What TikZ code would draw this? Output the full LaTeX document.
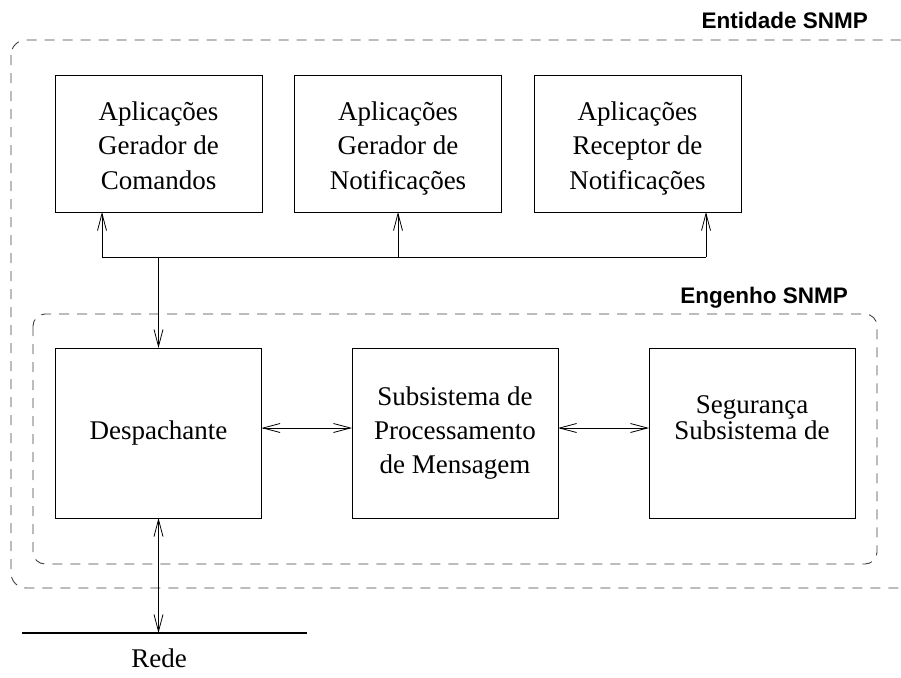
\documentclass[tikz,border=0pt]{standalone}
\usepackage{fontspec}
\setmainfont{Liberation Serif}
\setsansfont{Liberation Sans}
\usepackage{tikz}
\usetikzlibrary{arrows.meta, positioning}

\begin{document}
\begin{tikzpicture}[
  x=1pt, y=-1pt,
  >={Straight Barb[length=17pt,width=9pt]},
  app/.style={rectangle, draw, line width=0.9pt, minimum width=207pt, minimum height=137pt, align=center, inner sep=0pt, outer sep=0pt, text height=94pt, text depth=3pt, font=\fontsize{27}{34.5}\selectfont},
  subsys/.style={rectangle, draw, line width=0.9pt, minimum width=206pt, minimum height=170pt, align=center, inner sep=0pt, outer sep=0pt, font=\fontsize{27}{34}\selectfont},
  frame/.style={draw, dashed, dash pattern=on 10pt off 8pt, line width=0.9pt, black!75},
  title/.style={font=\sffamily\bfseries\fontsize{22.5}{26}\selectfont, inner sep=0pt},
  link/.style={line width=0.8pt},
]
  \path[use as bounding box] (0,0) rectangle (901,677);

  % caixas tracejadas
  \begin{scope}
    \clip (0,0) rectangle (901,677);
    \draw[frame, rounded corners=15pt] (11,40) rectangle (915,588);
  \end{scope}
  \draw[frame, rounded corners=12pt] (33,314) rectangle (877,564);
  \node[title, anchor=base east] (entidade) at (868,29) {Entidade SNMP};
  \node[title, anchor=base east] (engenho) at (848,303) {Engenho SNMP};

  % aplicacoes
  \node[app] (gercmd) at (158.5,143.5) {Aplica\c{c}\~oes\\ Gerador de\\ Comandos};
  \node[app] (gernot) at (398,143.5) {Aplica\c{c}\~oes\\ Gerador de\\ Notifica\c{c}\~oes};
  \node[app] (recnot) at (637.5,143.5) {Aplica\c{c}\~oes\\ Receptor de\\ Notifica\c{c}\~oes};

  % engenho
  \node[subsys] (despachante) at (158.5,433) {Despachante};
  \node[subsys, text height=88pt, text depth=8pt] (processamento) at (455,433) {Subsistema de\\ Processamento\\ de Mensagem};
  \node[subsys, font=\fontsize{27}{22}\selectfont, text height=42pt, text depth=30pt] (seguranca) at (752,433) {Seguran\c{c}a\\ Subsistema de};

  % barramento
  \coordinate (busl) at (102,257);
  \coordinate (busr) at (706,257);
  \draw[link] (busl) -- (busr);
  \draw[link, ->] (busl) -- (busl |- gercmd.south);
  \draw[link, ->] (gernot.south |- busl) -- (gernot.south);
  \draw[link, ->] (busr) -- (busr |- recnot.south);
  \draw[link, ->] (despachante.north |- busl) -- (despachante.north);

  \draw[link, <->] ([yshift=5pt]despachante.east) -- ([yshift=5pt]processamento.west);
  \draw[link, <->] ([yshift=5pt]processamento.east) -- ([yshift=5pt]seguranca.west);

  % rede
  \coordinate (redel) at (22,633);
  \coordinate (reder) at (307,633);
  \draw[line width=1.5pt] (redel) -- (reder);
  \draw[link, <->] (despachante.south) -- (despachante.south |- redel);
  \node[anchor=base, font=\fontsize{27}{30}\selectfont, inner sep=0pt] (rede) at (159,667) {Rede};
\end{tikzpicture}
\end{document}
